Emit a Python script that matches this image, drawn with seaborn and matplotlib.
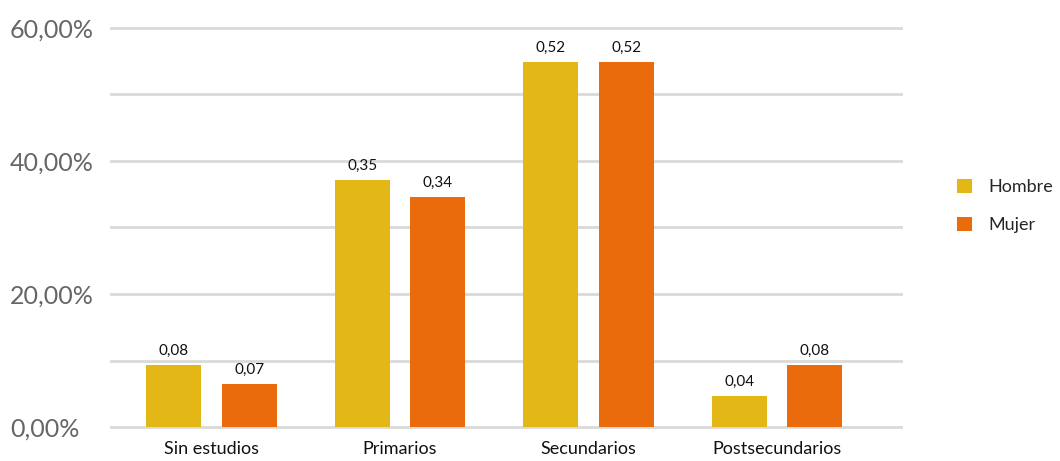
import matplotlib
matplotlib.use("Agg")
import matplotlib.pyplot as plt
import seaborn as sns
import pandas as pd
from matplotlib.patches import Patch

categories = ["Sin estudios", "Primarios", "Secundarios", "Postsecundarios"]
hombre = [9.3, 37.1, 54.9, 4.7]
mujer = [6.5, 34.6, 54.9, 9.3]
hombre_labels = ["0,08", "0,35", "0,52", "0,04"]
mujer_labels = ["0,07", "0,34", "0,52", "0,08"]
series = ["Hombre", "Mujer"]
colors = ["#E3B715", "#E96B0B"]
ytick_vals = [0, 20, 40, 60]
ytick_labels = ["0,00%", "20,00%", "40,00%", "60,00%"]

df = pd.DataFrame({
    "cat": categories * 2,
    "serie": [series[0]] * 4 + [series[1]] * 4,
    "val": hombre + mujer,
})

sns.set_theme(style="white")
plt.rcParams["font.family"] = ["Lato", "DejaVu Sans"]

W, H = 1060, 461
fig = plt.figure(figsize=(W / 100, H / 100), dpi=100)
px_per = (427 - 28) / 60.0
ymin, ymax = -0.3, 60.3
bottom_px = 427 + 0.3 * px_per
top_px = 28 - 0.3 * px_per
ax = fig.add_axes([110 / W, (H - bottom_px) / H, (903 - 110) / W, (bottom_px - top_px) / H])

sns.barplot(data=df, x="cat", y="val", hue="serie", palette=colors,
            width=0.8, gap=0.27, saturation=1, legend=False, ax=ax, zorder=3,
            linewidth=0, edgecolor="none")

ax.set_ylim(ymin, ymax)
ax.set_xlim(-0.538, 3.668)
ax.set_yticks(ytick_vals)
ax.set_yticklabels(ytick_labels, color="#666666", fontsize=18, ha="left")
ax.set_yticks([10, 30, 50], minor=True)
ax.grid(axis="y", which="both", color="#d9d9d9", linewidth=2, zorder=0)
ax.grid(axis="x", visible=False)
for s in ax.spines.values():
    s.set_visible(False)
ax.tick_params(axis="y", which="both", length=0, pad=72)
ax.tick_params(axis="x", length=0, pad=9, labelsize=13, labelcolor="#111111")
ax.set_xlabel("")
ax.set_ylabel("")

for cont, labs in zip(ax.containers, [hombre_labels, mujer_labels]):
    ax.bar_label(cont, labels=labs, padding=5, fontsize=11, color="#111111")

handles = [Patch(facecolor=c, edgecolor="none") for c in colors]
fig.legend(handles, series, loc="center left", bbox_to_anchor=(941 / W, 1 - 206 / H),
           frameon=False, fontsize=13, handlelength=0.8, handleheight=0.8,
           handletextpad=0.9, labelspacing=1.2)

fig.savefig("out.png", dpi=100)
